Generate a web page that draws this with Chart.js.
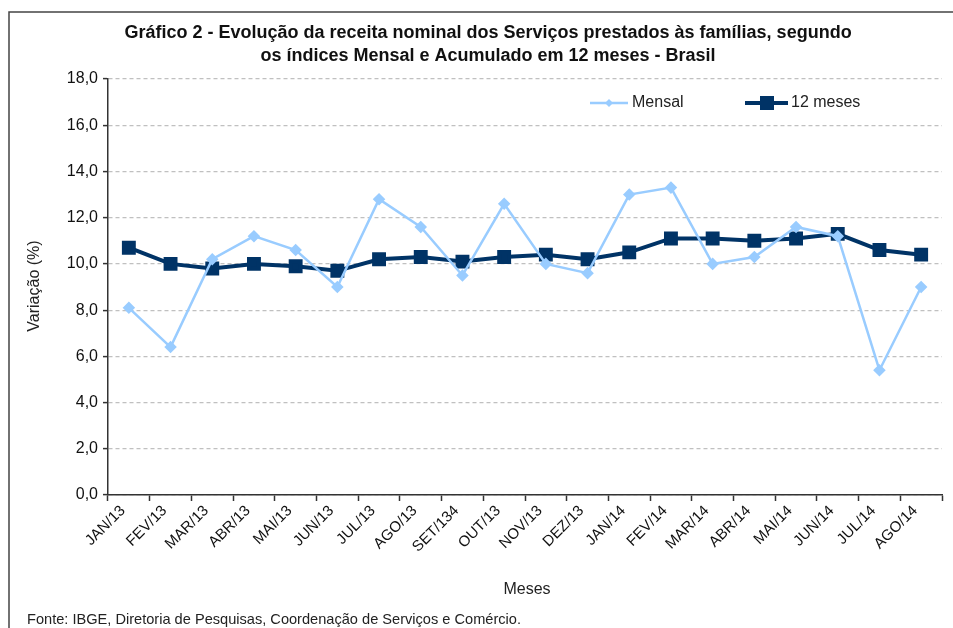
<!DOCTYPE html>
<html>
<head>
<meta charset="utf-8">
<script src="https://cdn.jsdelivr.net/npm/chart.js@4/dist/chart.umd.min.js"></script>
<style>
  html, body { margin: 0; padding: 0; background: #fff; }
  #wrap { width: 953px; height: 628px; position: relative; }
</style>
</head>
<body>
<div id="wrap"><canvas id="grafico" width="953" height="628"></canvas></div>
<script>
// meses do eixo x
const meses = ["JAN/13", "FEV/13", "MAR/13", "ABR/13", "MAI/13", "JUN/13", "JUL/13", "AGO/13",
  "SET/134", "OUT/13", "NOV/13", "DEZ/13", "JAN/14", "FEV/14", "MAR/14", "ABR/14", "MAI/14",
  "JUN/14", "JUL/14", "AGO/14"]

// variacao mensal (%)
const mensal = [8.1, 6.4, 10.2, 11.2, 10.6, 9.0, 12.8, 11.6, 9.5, 12.6,
  10.0, 9.6, 13.0, 13.3, 10.0, 10.3, 11.6, 11.2, 5.4, 9.0]

// acumulado em 12 meses (%)
const acum12 = [10.7, 10.0, 9.8, 10.0, 9.9, 9.7, 10.2, 10.3, 10.1, 10.3,
  10.4, 10.2, 10.5, 11.1, 11.1, 11.0, 11.1, 11.3, 10.6, 10.4]

const yTicks = [0, 2, 4, 6, 8, 10, 12, 14, 16, 18]

const FONT = "'Liberation Sans', Arial, sans-serif"

// textos fixos: moldura, titulo, legenda, fonte
const textos = {
  id: 'textos',
  afterDraw(chart) {
    const ctx = chart.ctx
    ctx.save()
    ctx.strokeStyle = '#444'
    ctx.lineWidth = 1.5
    ctx.strokeRect(9, 12, 1000, 700)

    ctx.fillStyle = '#111'
    ctx.textAlign = 'center'
    ctx.textBaseline = 'middle'
    ctx.font = 'bold 18px ' + FONT
    ctx.fillText('Gráfico 2 - Evolução da receita nominal dos Serviços prestados às famílias, segundo', 488, 33)
    ctx.fillText('os índices Mensal e Acumulado em 12 meses - Brasil', 488, 56)

    ctx.font = '16px ' + FONT
    ctx.fillStyle = '#222'
    ctx.fillText('Meses', 527, 590)

    ctx.save()
    ctx.translate(35, 286)
    ctx.rotate(-Math.PI / 2)
    ctx.fillText('Variação (%)', 0, 0)
    ctx.restore()

    ctx.textAlign = 'left'
    ctx.font = '14.6px ' + FONT
    ctx.fillText('Fonte: IBGE, Diretoria de Pesquisas, Coordenação de Serviços e Comércio.', 27, 620)

    // legenda
    const ds = chart.data.datasets
    ctx.font = '16px ' + FONT
    ctx.strokeStyle = ds[0].borderColor
    ctx.lineWidth = ds[0].borderWidth
    ctx.beginPath(); ctx.moveTo(590, 103); ctx.lineTo(628, 103); ctx.stroke()
    ctx.fillStyle = ds[0].pointBackgroundColor
    ctx.beginPath()
    ctx.moveTo(609, 99); ctx.lineTo(613, 103); ctx.lineTo(609, 107); ctx.lineTo(605, 103)
    ctx.closePath(); ctx.fill()
    ctx.fillStyle = '#222'
    ctx.fillText('Mensal', 632, 103)

    ctx.strokeStyle = ds[1].borderColor
    ctx.lineWidth = ds[1].borderWidth
    ctx.beginPath(); ctx.moveTo(745, 103); ctx.lineTo(788, 103); ctx.stroke()
    ctx.fillStyle = ds[1].pointBackgroundColor
    ctx.fillRect(760, 96, 14, 14)
    ctx.fillStyle = '#222'
    ctx.fillText('12 meses', 791, 103)
    ctx.restore()
  }
}

new Chart(document.getElementById('grafico'), {
  type: 'line',
  data: {
    labels: meses,
    datasets: [
      {
        label: 'Mensal',
        data: mensal,
        borderColor: '#99ccff',
        backgroundColor: '#99ccff',
        pointBackgroundColor: '#99ccff',
        pointBorderColor: '#99ccff',
        borderWidth: 2.5,
        pointStyle: 'rectRot',
        pointRadius: 4.5,
        tension: 0
      },
      {
        label: '12 meses',
        data: acum12,
        borderColor: '#003366',
        backgroundColor: '#003366',
        pointBackgroundColor: '#003366',
        pointBorderColor: '#003366',
        borderWidth: 4,
        pointStyle: 'rect',
        pointRadius: 7,
        tension: 0
      }
    ]
  },
  options: {
    responsive: false,
    animation: false,
    events: [],
    layout: {padding: {left: 0, top: 79, right: 7, bottom: 0}},
    plugins: {legend: {display: false}, title: {display: false}, tooltip: {enabled: false}},
    scales: {
      x: {
        offset: true,
        afterFit: (s) => { s.height = 133 },
        grid: {offset: true, drawOnChartArea: false, drawTicks: true, tickLength: 6,
          tickColor: '#333', tickWidth: 1.5},
        border: {color: '#333', width: 1.5},
        ticks: {minRotation: 45, maxRotation: 45, autoSkip: false, color: '#111',
          font: {family: FONT, size: 15}, padding: 1, labelOffset: -6}
      },
      y: {
        min: 0, max: 18,
        afterFit: (s) => { s.width = 108 },
        afterBuildTicks: (s) => { s.ticks = yTicks.map(v => ({value: v})) },
        grid: {color: '#c0c0c0', lineWidth: 1.2, tickLength: 5,
          tickColor: '#333', tickBorderDash: [], tickWidth: 1.5},
        border: {color: '#333', width: 1.5, dash: [4, 3]},
        ticks: {color: '#111', font: {family: FONT, size: 16}, padding: 5,
          callback: (v) => v.toFixed(1).replace('.', ',')}
      }
    }
  },
  plugins: [textos]
})
</script>
</body>
</html>
